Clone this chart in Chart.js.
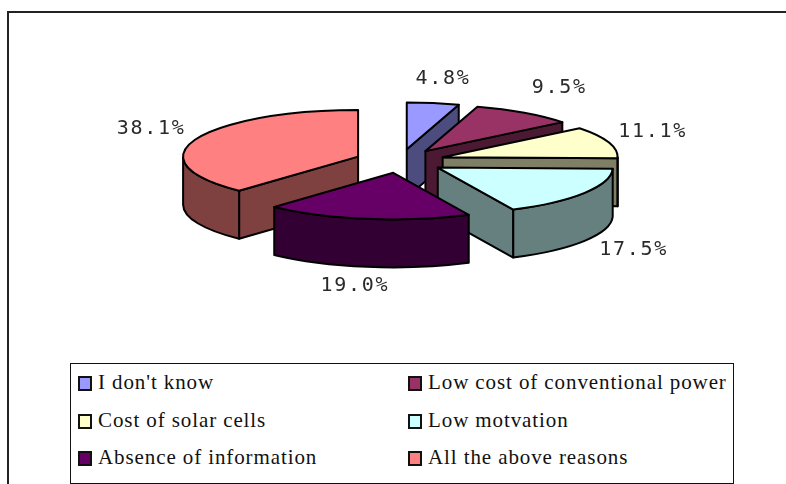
<!DOCTYPE html>
<html lang="en">
<head>
  <meta charset="UTF-8">
  <title>Reasons</title>
  <script src="https://cdn.jsdelivr.net/npm/chart.js"></script>
  <style>
    html, body {
      margin: 0;
      background: #fff;
      overflow: hidden;
    }

    #frame {
      position: absolute;
      left: 7px;
      top: 11px;
      width: 779px;
      height: 473px;
      border-left: 2px solid #222;
      border-top: 2px solid #222;
      box-sizing: border-box;
    }

    canvas {
      position: absolute;
      left: 0;
      top: 0;
    }

    #legend {
      position: absolute;
      left: 70px;
      top: 363px;
      width: 664px;
      height: 121px;
      box-sizing: border-box;
      border: 1px solid #111;
      background: #fff;
      font-family: 'Liberation Serif', serif;
      font-size: 21px;
      letter-spacing: 0.9px;
      color: #111;
    }

    .item {
      position: absolute;
      white-space: pre;
      line-height: 24px;
    }

    .swatch {
      position: absolute;
      width: 14px;
      height: 15px;
      box-sizing: border-box;
      border: 2px solid #111;
    }
  </style>
</head>
<body>
  <div id="frame"></div>
  <canvas id="myChart" width="786" height="484"></canvas>
  <div id="legend"></div>

  <script>
    const categories = ['I don\'t know', 'Low cost of conventional power', 'Cost of solar cells', 'Low motvation', 'Absence of information', 'All the above reasons'];
    const shares = [4.8, 9.5, 11.1, 17.5, 19.0, 38.1];
    const topColors = ['#9999FF', '#993366', '#FFFFCC', '#CCFFFF', '#660066', '#FF8080'];
    const wallColors = ['#4C4C7F', '#4C1933', '#7F7F66', '#667F7F', '#330033', '#7F4040'];

    const squash = 0.266;  // vertical flattening of the pie
    const depth = 48;      // height of the walls in pixels
    const explode = 45;    // how far each slice is pulled out
    const wallOrder = [0, 1, 5, 2, 3, 4];  // back to front
    // where each percent label sits relative to the rim point of its slice
    const labelShift = [[10, -24], [35, -25], [44, -11], [49, 57], [-12, 67], [-44, -11]];

    let pieY = 0;

    // arc coordinates are in the round pie, this gives the flattened position
    function sliceCenter(arc) {
      return { x: arc.x, y: pieY + (arc.y - pieY) * squash };
    }

    function rimPoint(c, r, angle) {
      return { x: c.x + Math.cos(angle) * r, y: c.y + Math.sin(angle) * r * squash };
    }

    function drawRadialWall(ctx, c, r, angle) {
      const p = rimPoint(c, r, angle);
      ctx.beginPath();
      ctx.moveTo(c.x, c.y);
      ctx.lineTo(p.x, p.y);
      ctx.lineTo(p.x, p.y + depth);
      ctx.lineTo(c.x, c.y + depth);
      ctx.closePath();
      ctx.fill();
      ctx.stroke();
    }

    function drawRimWall(ctx, c, r, from, to) {
      ctx.beginPath();
      ctx.ellipse(c.x, c.y, r, r * squash, 0, from, to);
      ctx.ellipse(c.x, c.y + depth, r, r * squash, 0, to, from, true);
      ctx.closePath();
      ctx.fill();
      ctx.stroke();
    }

    // explodes and squashes the library's arcs, adds walls and outlines for the 3D look
    const pie3d = {
      id: 'pie3d',
      afterDatasetsUpdate(chart) {
        const arcs = chart.getDatasetMeta(0).data;
        pieY = arcs[0].y;
        arcs.forEach(arc => {
          const mid = (arc.startAngle + arc.endAngle) / 2;
          arc.x += Math.cos(mid) * explode;
          arc.y += Math.sin(mid) * explode;
        });
      },
      beforeDatasetsDraw(chart) {
        const ctx = chart.ctx;
        const arcs = chart.getDatasetMeta(0).data;
        ctx.save();
        ctx.lineWidth = 2;
        ctx.strokeStyle = '#000';
        ctx.lineJoin = 'round';
        wallOrder.forEach(i => {
          const arc = arcs[i];
          const c = sliceCenter(arc);
          const r = arc.outerRadius;
          ctx.fillStyle = wallColors[i];
          if (-Math.cos(arc.startAngle) > 0.001) drawRadialWall(ctx, c, r, arc.startAngle);
          if (Math.cos(arc.endAngle) > 0.001) drawRadialWall(ctx, c, r, arc.endAngle);
          const from = Math.max(arc.startAngle, 0);
          const to = Math.min(arc.endAngle, Math.PI);
          if (to > from) drawRimWall(ctx, c, r, from, to);
        });
        ctx.restore();

        ctx.save();
        ctx.translate(0, pieY);
        ctx.scale(1, squash);
        ctx.translate(0, -pieY);
      },
      afterDatasetsDraw(chart) {
        const ctx = chart.ctx;
        ctx.restore();

        const arcs = chart.getDatasetMeta(0).data;
        ctx.save();
        ctx.lineWidth = 2;
        ctx.strokeStyle = '#000';
        ctx.lineJoin = 'round';
        arcs.forEach(arc => {
          const c = sliceCenter(arc);
          const r = arc.outerRadius;
          ctx.beginPath();
          ctx.moveTo(c.x, c.y);
          ctx.ellipse(c.x, c.y, r, r * squash, 0, arc.startAngle, arc.endAngle);
          ctx.closePath();
          ctx.stroke();
        });

        ctx.font = '20px "DejaVu Sans Mono", monospace';
        ctx.letterSpacing = '1.7px';
        ctx.fillStyle = '#2a2a2a';
        ctx.textAlign = 'center';
        ctx.textBaseline = 'middle';
        arcs.forEach((arc, i) => {
          const c = sliceCenter(arc);
          const p = rimPoint(c, arc.outerRadius, (arc.startAngle + arc.endAngle) / 2);
          ctx.fillText(shares[i].toFixed(1) + '%', p.x + labelShift[i][0], p.y + labelShift[i][1]);
        });
        ctx.restore();
      }
    };

    new Chart(document.getElementById('myChart'), {
      type: 'pie',
      data: {
        labels: categories,
        datasets: [{
          data: shares,
          backgroundColor: topColors,
          borderWidth: 0,
          clip: false
        }]
      },
      options: {
        responsive: false,
        animation: false,
        radius: 175,
        layout: { padding: { left: 14, right: 0, top: 0, bottom: 162 } },
        plugins: {
          legend: { display: false },
          tooltip: { enabled: false }
        }
      },
      plugins: [pie3d]
    });

    // two column legend in a box
    const legend = document.getElementById('legend');
    categories.forEach((name, i) => {
      const col = i % 2;
      const row = Math.floor(i / 2);
      const left = col === 0 ? 7 : 337;
      const top = 12 + row * 37.5;
      const swatch = document.createElement('div');
      swatch.className = 'swatch';
      swatch.style.left = left + 'px';
      swatch.style.top = top + 'px';
      swatch.style.background = topColors[i];
      legend.appendChild(swatch);
      const item = document.createElement('div');
      item.className = 'item';
      item.style.left = (col === 0 ? 27 : 357) + 'px';
      item.style.top = (top - 6) + 'px';
      item.textContent = name;
      legend.appendChild(item);
    });
  </script>
</body>
</html>
